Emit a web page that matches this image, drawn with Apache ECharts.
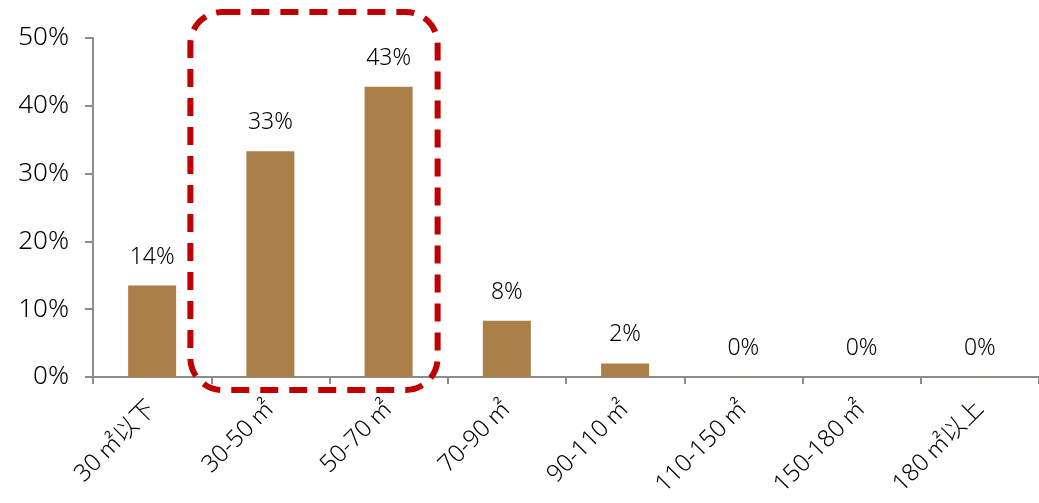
<!DOCTYPE html>
<html><head><meta charset="utf-8">
<script src="https://cdn.jsdelivr.net/npm/echarts@6/dist/echarts.min.js"></script>
<style>html,body{margin:0;padding:0;background:#fff}#c{width:1039px;height:503px}</style>
</head><body><div id="c"></div>
<script>
const categories = ['30㎡以下','30-50㎡','50-70㎡','70-90㎡','90-110㎡','110-150㎡','150-180㎡','180㎡以上'];
const shares = [13.5, 33.3, 42.8, 8.3, 2.0, 0.05, 0.05, 0.05];
const labels = ['14%','33%','43%','8%','2%','0%','0%','0%'];
const yTicks = [0, 10, 20, 30, 40, 50];

const chart = echarts.init(document.getElementById('c'));
const font = '"Noto Sans", "Noto Sans CJK SC", sans-serif';
chart.setOption({
  animation: false,
  grid: { left: 93, right: -6, top: 38, bottom: 126, containLabel: false },
  xAxis: {
    type: 'category', data: categories,
    axisLine: { lineStyle: { color: '#8c8c8c', width: 2 } },
    axisTick: { show: true, length: 7, lineStyle: { color: '#8c8c8c', width: 2 } },
    axisLabel: { rotate: 45, color: '#000', fontSize: 24, fontWeight: 300, fontFamily: font, margin: 28, interval: 0,
      formatter: v => v.replace('㎡', '\u2009㎡') }
  },
  yAxis: {
    type: 'value', min: yTicks[0], max: yTicks[yTicks.length-1], interval: 10,
    splitLine: { show: false },
    axisLine: { show: true, lineStyle: { color: '#8c8c8c', width: 2 } },
    axisTick: { show: true, length: 8, lineStyle: { color: '#8c8c8c', width: 2 } },
    axisLabel: { formatter: v => v + '%', color: '#000', fontSize: 26, fontWeight: 300, fontFamily: font, margin: 24 }
  },
  series: [{
    type: 'bar', data: shares, barWidth: 48,
    itemStyle: { color: '#AA7F48' },
    label: { show: true, position: 'top', distance: 17, color: '#000', fontSize: 23, fontWeight: 300, fontFamily: font,
      formatter: p => labels[p.dataIndex] }
  }]
});

const c1 = chart.convertToPixel({ xAxisIndex: 0 }, categories[1]);
const c2 = chart.convertToPixel({ xAxisIndex: 0 }, categories[2]);
const yTop = chart.convertToPixel({ yAxisIndex: 0 }, yTicks[yTicks.length-1]);
const yZero = chart.convertToPixel({ yAxisIndex: 0 }, yTicks[0]);
const x0 = c1 - 80, x1 = c2 + 49, y0 = yTop - 26, y1 = yZero + 13;
chart.setOption({
  graphic: [{
    type: 'rect', z: 100,
    shape: { x: x0, y: y0, width: x1 - x0, height: y1 - y0, r: 32 },
    style: { fill: 'none', stroke: '#C00000', lineWidth: 6, lineDash: [18, 11] }
  }]
});
</script></body></html>
